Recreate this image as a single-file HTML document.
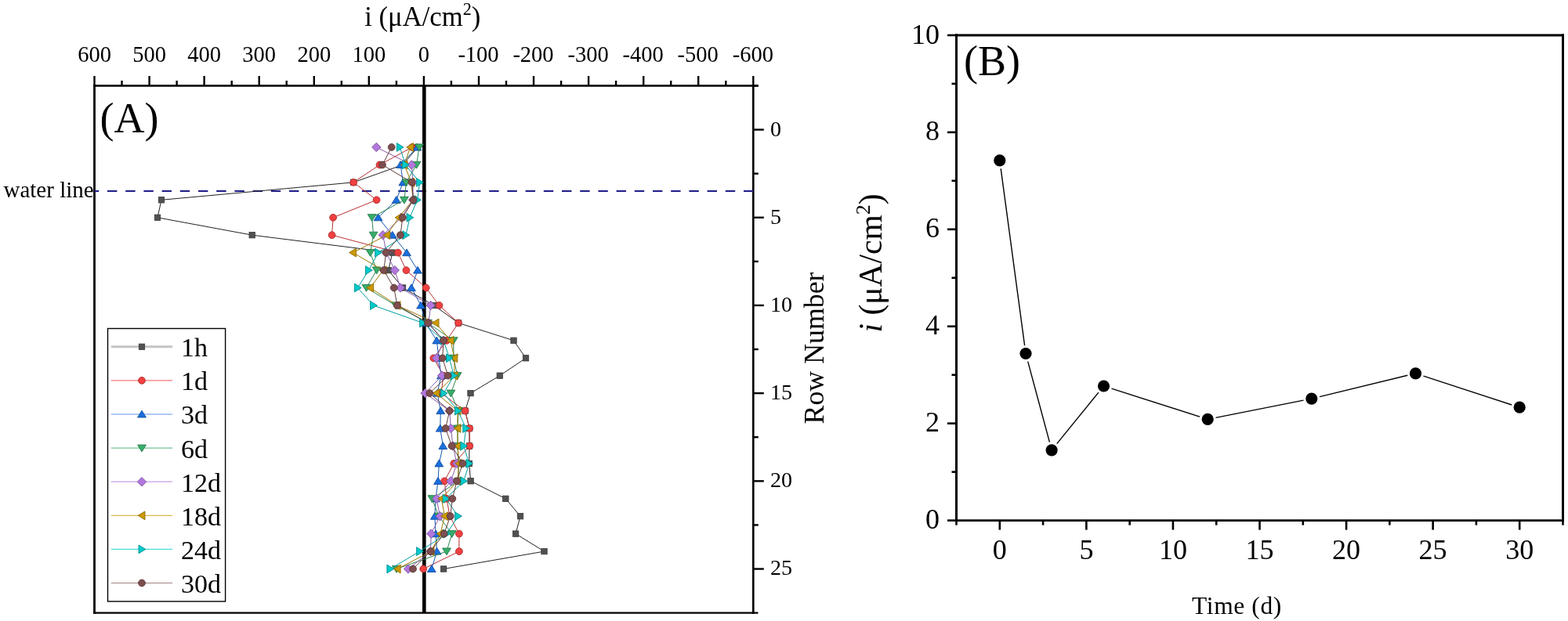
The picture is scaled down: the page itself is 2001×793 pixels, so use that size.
<!DOCTYPE html>
<html><head><meta charset="utf-8"><title>Figure</title>
<style>html,body{margin:0;padding:0;background:#fff;}body{width:2001px;height:793px;overflow:hidden;}svg{display:block;}text{font-family:'Liberation Serif', 'Times New Roman', serif;fill:#000;}</style>
</head><body>
<svg width="2001" height="793" viewBox="0 0 2001 793">
<rect x="0" y="0" width="2001" height="793" fill="#fff"/>
<g stroke="#000" fill="none" stroke-linecap="square">
<line x1="120.5" y1="109.5" x2="120.5" y2="782.6" stroke-width="2.8"/>
<line x1="961.3" y1="109.5" x2="961.3" y2="782.6" stroke-width="2.6"/>
<line x1="120.5" y1="109.5" x2="966.3" y2="109.5" stroke-width="2.3"/>
<line x1="120.5" y1="782.6" x2="966.3" y2="782.6" stroke-width="2.3"/>
</g>
<g stroke="#000" stroke-width="2.4">
<line x1="120.5" y1="109.5" x2="120.5" y2="97.0"/>
<line x1="155.5" y1="109.5" x2="155.5" y2="103.0"/>
<line x1="190.6" y1="109.5" x2="190.6" y2="97.0"/>
<line x1="225.6" y1="109.5" x2="225.6" y2="103.0"/>
<line x1="260.6" y1="109.5" x2="260.6" y2="97.0"/>
<line x1="295.7" y1="109.5" x2="295.7" y2="103.0"/>
<line x1="330.7" y1="109.5" x2="330.7" y2="97.0"/>
<line x1="365.7" y1="109.5" x2="365.7" y2="103.0"/>
<line x1="400.8" y1="109.5" x2="400.8" y2="97.0"/>
<line x1="435.8" y1="109.5" x2="435.8" y2="103.0"/>
<line x1="470.8" y1="109.5" x2="470.8" y2="97.0"/>
<line x1="505.9" y1="109.5" x2="505.9" y2="103.0"/>
<line x1="540.9" y1="109.5" x2="540.9" y2="97.0"/>
<line x1="575.9" y1="109.5" x2="575.9" y2="103.0"/>
<line x1="611.0" y1="109.5" x2="611.0" y2="97.0"/>
<line x1="646.0" y1="109.5" x2="646.0" y2="103.0"/>
<line x1="681.0" y1="109.5" x2="681.0" y2="97.0"/>
<line x1="716.1" y1="109.5" x2="716.1" y2="103.0"/>
<line x1="751.1" y1="109.5" x2="751.1" y2="97.0"/>
<line x1="786.1" y1="109.5" x2="786.1" y2="103.0"/>
<line x1="821.2" y1="109.5" x2="821.2" y2="97.0"/>
<line x1="856.2" y1="109.5" x2="856.2" y2="103.0"/>
<line x1="891.2" y1="109.5" x2="891.2" y2="97.0"/>
<line x1="926.3" y1="109.5" x2="926.3" y2="103.0"/>
<line x1="961.3" y1="109.5" x2="961.3" y2="97.0"/>
<line x1="961.3" y1="109.50" x2="967.8" y2="109.50"/>
<line x1="961.3" y1="165.59" x2="974.8" y2="165.59"/>
<line x1="961.3" y1="221.68" x2="967.8" y2="221.68"/>
<line x1="961.3" y1="277.77" x2="974.8" y2="277.77"/>
<line x1="961.3" y1="333.87" x2="967.8" y2="333.87"/>
<line x1="961.3" y1="389.96" x2="974.8" y2="389.96"/>
<line x1="961.3" y1="446.05" x2="967.8" y2="446.05"/>
<line x1="961.3" y1="502.14" x2="974.8" y2="502.14"/>
<line x1="961.3" y1="558.23" x2="967.8" y2="558.23"/>
<line x1="961.3" y1="614.33" x2="974.8" y2="614.33"/>
<line x1="961.3" y1="670.42" x2="967.8" y2="670.42"/>
<line x1="961.3" y1="726.51" x2="974.8" y2="726.51"/>
</g>
<g font-size="28.5" text-anchor="middle">
<text x="120.5" y="79.3">600</text>
<text x="190.6" y="79.3">500</text>
<text x="260.6" y="79.3">400</text>
<text x="330.7" y="79.3">300</text>
<text x="400.8" y="79.3">200</text>
<text x="470.8" y="79.3">100</text>
<text x="540.9" y="79.3">0</text>
<text x="610.5" y="79.3">-100</text>
<text x="680.5" y="79.3">-200</text>
<text x="750.6" y="79.3">-300</text>
<text x="820.7" y="79.3">-400</text>
<text x="890.7" y="79.3">-500</text>
<text x="960.8" y="79.3">-600</text>
</g>
<g font-size="28">
<text x="983" y="173.5">0</text>
<text x="983" y="285.7">5</text>
<text x="983" y="397.9">10</text>
<text x="983" y="510.0">15</text>
<text x="983" y="622.2">20</text>
<text x="983" y="734.4">25</text>
</g>
<text x="539.3" y="32.7" font-size="36" text-anchor="middle" textLength="148" lengthAdjust="spacingAndGlyphs">i (μA/cm<tspan font-size="23" dy="-14">2</tspan><tspan dy="14">)</tspan></text>
<text transform="translate(1050.5,444.5) rotate(-90)" font-size="35.8" text-anchor="middle">Row Number</text>
<text x="127.5" y="169.2" font-size="54">(A)</text>
<text x="4.5" y="252.4" font-size="29">water line</text>
<line x1="120.5" y1="244" x2="961.3" y2="244" stroke="#1e1c86" stroke-width="2.0" stroke-dasharray="12.4 10.8" stroke-dashoffset="6.7"/>
<line x1="541.3" y1="109.5" x2="541.3" y2="782.6" stroke="#000" stroke-width="4.6"/>
<polyline points="533.0,188.0 514.0,210.5 451.0,232.9 206.0,255.3 201.0,277.8 321.7,300.2 500.8,322.6 495.7,345.1 514.0,367.5 554.0,390.0 585.0,412.4 655.5,434.8 671.0,457.3 637.8,479.7 600.5,502.1 593.6,524.6 599.0,547.0 599.0,569.5 598.7,591.9 600.6,614.3 645.3,636.8 664.0,659.2 658.1,681.6 694.5,704.1 566.1,726.5" fill="none" stroke="#222" stroke-width="1.0" stroke-linejoin="round"/>
<rect x="529.3" y="184.3" width="7.4" height="7.4" fill="#515151" stroke="#3a3a3a" stroke-width="0.8"/>
<rect x="510.3" y="206.8" width="7.4" height="7.4" fill="#515151" stroke="#3a3a3a" stroke-width="0.8"/>
<rect x="447.3" y="229.2" width="7.4" height="7.4" fill="#515151" stroke="#3a3a3a" stroke-width="0.8"/>
<rect x="202.3" y="251.6" width="7.4" height="7.4" fill="#515151" stroke="#3a3a3a" stroke-width="0.8"/>
<rect x="197.3" y="274.1" width="7.4" height="7.4" fill="#515151" stroke="#3a3a3a" stroke-width="0.8"/>
<rect x="318.0" y="296.5" width="7.4" height="7.4" fill="#515151" stroke="#3a3a3a" stroke-width="0.8"/>
<rect x="497.1" y="318.9" width="7.4" height="7.4" fill="#515151" stroke="#3a3a3a" stroke-width="0.8"/>
<rect x="492.0" y="341.4" width="7.4" height="7.4" fill="#515151" stroke="#3a3a3a" stroke-width="0.8"/>
<rect x="510.3" y="363.8" width="7.4" height="7.4" fill="#515151" stroke="#3a3a3a" stroke-width="0.8"/>
<rect x="550.3" y="386.3" width="7.4" height="7.4" fill="#515151" stroke="#3a3a3a" stroke-width="0.8"/>
<rect x="581.3" y="408.7" width="7.4" height="7.4" fill="#515151" stroke="#3a3a3a" stroke-width="0.8"/>
<rect x="651.8" y="431.1" width="7.4" height="7.4" fill="#515151" stroke="#3a3a3a" stroke-width="0.8"/>
<rect x="667.3" y="453.6" width="7.4" height="7.4" fill="#515151" stroke="#3a3a3a" stroke-width="0.8"/>
<rect x="634.1" y="476.0" width="7.4" height="7.4" fill="#515151" stroke="#3a3a3a" stroke-width="0.8"/>
<rect x="596.8" y="498.4" width="7.4" height="7.4" fill="#515151" stroke="#3a3a3a" stroke-width="0.8"/>
<rect x="589.9" y="520.9" width="7.4" height="7.4" fill="#515151" stroke="#3a3a3a" stroke-width="0.8"/>
<rect x="595.3" y="543.3" width="7.4" height="7.4" fill="#515151" stroke="#3a3a3a" stroke-width="0.8"/>
<rect x="595.3" y="565.8" width="7.4" height="7.4" fill="#515151" stroke="#3a3a3a" stroke-width="0.8"/>
<rect x="595.0" y="588.2" width="7.4" height="7.4" fill="#515151" stroke="#3a3a3a" stroke-width="0.8"/>
<rect x="596.9" y="610.6" width="7.4" height="7.4" fill="#515151" stroke="#3a3a3a" stroke-width="0.8"/>
<rect x="641.6" y="633.1" width="7.4" height="7.4" fill="#515151" stroke="#3a3a3a" stroke-width="0.8"/>
<rect x="660.3" y="655.5" width="7.4" height="7.4" fill="#515151" stroke="#3a3a3a" stroke-width="0.8"/>
<rect x="654.4" y="677.9" width="7.4" height="7.4" fill="#515151" stroke="#3a3a3a" stroke-width="0.8"/>
<rect x="690.8" y="700.4" width="7.4" height="7.4" fill="#515151" stroke="#3a3a3a" stroke-width="0.8"/>
<rect x="562.4" y="722.8" width="7.4" height="7.4" fill="#515151" stroke="#3a3a3a" stroke-width="0.8"/>
<polyline points="526.0,188.0 484.5,210.5 451.1,232.9 480.6,255.3 425.1,277.8 423.6,300.2 507.9,322.6 518.4,345.1 543.7,367.5 560.5,390.0 585.0,412.4 570.0,434.8 553.3,457.3 566.0,479.7 563.0,502.1 593.6,524.6 599.2,547.0 599.3,569.5 579.2,591.9 567.2,614.3 570.0,636.8 574.0,659.2 585.9,681.6 585.9,704.1 540.2,726.5" fill="none" stroke="#bb3131" stroke-width="1.0" stroke-linejoin="round"/>
<circle cx="526.0" cy="188.0" r="4.40" fill="#F14040" stroke="#a82c2c" stroke-width="0.9"/>
<circle cx="484.5" cy="210.5" r="4.40" fill="#F14040" stroke="#a82c2c" stroke-width="0.9"/>
<circle cx="451.1" cy="232.9" r="4.40" fill="#F14040" stroke="#a82c2c" stroke-width="0.9"/>
<circle cx="480.6" cy="255.3" r="4.40" fill="#F14040" stroke="#a82c2c" stroke-width="0.9"/>
<circle cx="425.1" cy="277.8" r="4.40" fill="#F14040" stroke="#a82c2c" stroke-width="0.9"/>
<circle cx="423.6" cy="300.2" r="4.40" fill="#F14040" stroke="#a82c2c" stroke-width="0.9"/>
<circle cx="507.9" cy="322.6" r="4.40" fill="#F14040" stroke="#a82c2c" stroke-width="0.9"/>
<circle cx="518.4" cy="345.1" r="4.40" fill="#F14040" stroke="#a82c2c" stroke-width="0.9"/>
<circle cx="543.7" cy="367.5" r="4.40" fill="#F14040" stroke="#a82c2c" stroke-width="0.9"/>
<circle cx="560.5" cy="390.0" r="4.40" fill="#F14040" stroke="#a82c2c" stroke-width="0.9"/>
<circle cx="585.0" cy="412.4" r="4.40" fill="#F14040" stroke="#a82c2c" stroke-width="0.9"/>
<circle cx="570.0" cy="434.8" r="4.40" fill="#F14040" stroke="#a82c2c" stroke-width="0.9"/>
<circle cx="553.3" cy="457.3" r="4.40" fill="#F14040" stroke="#a82c2c" stroke-width="0.9"/>
<circle cx="566.0" cy="479.7" r="4.40" fill="#F14040" stroke="#a82c2c" stroke-width="0.9"/>
<circle cx="563.0" cy="502.1" r="4.40" fill="#F14040" stroke="#a82c2c" stroke-width="0.9"/>
<circle cx="593.6" cy="524.6" r="4.40" fill="#F14040" stroke="#a82c2c" stroke-width="0.9"/>
<circle cx="599.2" cy="547.0" r="4.40" fill="#F14040" stroke="#a82c2c" stroke-width="0.9"/>
<circle cx="599.3" cy="569.5" r="4.40" fill="#F14040" stroke="#a82c2c" stroke-width="0.9"/>
<circle cx="579.2" cy="591.9" r="4.40" fill="#F14040" stroke="#a82c2c" stroke-width="0.9"/>
<circle cx="567.2" cy="614.3" r="4.40" fill="#F14040" stroke="#a82c2c" stroke-width="0.9"/>
<circle cx="570.0" cy="636.8" r="4.40" fill="#F14040" stroke="#a82c2c" stroke-width="0.9"/>
<circle cx="574.0" cy="659.2" r="4.40" fill="#F14040" stroke="#a82c2c" stroke-width="0.9"/>
<circle cx="585.9" cy="681.6" r="4.40" fill="#F14040" stroke="#a82c2c" stroke-width="0.9"/>
<circle cx="585.9" cy="704.1" r="4.40" fill="#F14040" stroke="#a82c2c" stroke-width="0.9"/>
<circle cx="540.2" cy="726.5" r="4.40" fill="#F14040" stroke="#a82c2c" stroke-width="0.9"/>
<polyline points="532.4,188.0 511.2,210.5 514.3,232.9 505.8,255.3 482.6,277.8 500.8,300.2 519.0,322.6 533.0,345.1 525.0,367.5 537.1,390.0 543.0,412.4 557.3,434.8 560.0,457.3 563.0,479.7 558.0,502.1 562.3,524.6 561.8,547.0 565.3,569.5 560.3,591.9 559.0,614.3 556.0,636.8 554.8,659.2 556.1,681.6 557.5,704.1 550.8,726.5" fill="none" stroke="#1456ad" stroke-width="1.0" stroke-linejoin="round"/>
<polygon points="532.4,183.3 537.8,192.1 527.0,192.1" fill="#1A6FDF" stroke="#124d9c" stroke-width="0.9"/>
<polygon points="511.2,205.7 516.6,214.5 505.8,214.5" fill="#1A6FDF" stroke="#124d9c" stroke-width="0.9"/>
<polygon points="514.3,228.2 519.7,236.9 508.9,236.9" fill="#1A6FDF" stroke="#124d9c" stroke-width="0.9"/>
<polygon points="505.8,250.6 511.2,259.4 500.4,259.4" fill="#1A6FDF" stroke="#124d9c" stroke-width="0.9"/>
<polygon points="482.6,273.0 488.0,281.8 477.2,281.8" fill="#1A6FDF" stroke="#124d9c" stroke-width="0.9"/>
<polygon points="500.8,295.5 506.2,304.2 495.4,304.2" fill="#1A6FDF" stroke="#124d9c" stroke-width="0.9"/>
<polygon points="519.0,317.9 524.4,326.7 513.6,326.7" fill="#1A6FDF" stroke="#124d9c" stroke-width="0.9"/>
<polygon points="533.0,340.3 538.4,349.1 527.6,349.1" fill="#1A6FDF" stroke="#124d9c" stroke-width="0.9"/>
<polygon points="525.0,362.8 530.4,371.6 519.6,371.6" fill="#1A6FDF" stroke="#124d9c" stroke-width="0.9"/>
<polygon points="537.1,385.2 542.5,394.0 531.7,394.0" fill="#1A6FDF" stroke="#124d9c" stroke-width="0.9"/>
<polygon points="543.0,407.6 548.4,416.4 537.6,416.4" fill="#1A6FDF" stroke="#124d9c" stroke-width="0.9"/>
<polygon points="557.3,430.1 562.7,438.9 551.9,438.9" fill="#1A6FDF" stroke="#124d9c" stroke-width="0.9"/>
<polygon points="560.0,452.5 565.4,461.3 554.6,461.3" fill="#1A6FDF" stroke="#124d9c" stroke-width="0.9"/>
<polygon points="563.0,475.0 568.4,483.7 557.6,483.7" fill="#1A6FDF" stroke="#124d9c" stroke-width="0.9"/>
<polygon points="558.0,497.4 563.4,506.2 552.6,506.2" fill="#1A6FDF" stroke="#124d9c" stroke-width="0.9"/>
<polygon points="562.3,519.8 567.7,528.6 556.9,528.6" fill="#1A6FDF" stroke="#124d9c" stroke-width="0.9"/>
<polygon points="561.8,542.3 567.2,551.1 556.4,551.1" fill="#1A6FDF" stroke="#124d9c" stroke-width="0.9"/>
<polygon points="565.3,564.7 570.7,573.5 559.9,573.5" fill="#1A6FDF" stroke="#124d9c" stroke-width="0.9"/>
<polygon points="560.3,587.1 565.7,595.9 554.9,595.9" fill="#1A6FDF" stroke="#124d9c" stroke-width="0.9"/>
<polygon points="559.0,609.6 564.4,618.4 553.6,618.4" fill="#1A6FDF" stroke="#124d9c" stroke-width="0.9"/>
<polygon points="556.0,632.0 561.4,640.8 550.6,640.8" fill="#1A6FDF" stroke="#124d9c" stroke-width="0.9"/>
<polygon points="554.8,654.4 560.2,663.2 549.4,663.2" fill="#1A6FDF" stroke="#124d9c" stroke-width="0.9"/>
<polygon points="556.1,676.9 561.5,685.7 550.7,685.7" fill="#1A6FDF" stroke="#124d9c" stroke-width="0.9"/>
<polygon points="557.5,699.3 562.9,708.1 552.1,708.1" fill="#1A6FDF" stroke="#124d9c" stroke-width="0.9"/>
<polygon points="550.8,721.8 556.2,730.5 545.4,730.5" fill="#1A6FDF" stroke="#124d9c" stroke-width="0.9"/>
<polyline points="535.0,188.0 531.5,210.5 518.4,232.9 515.9,255.3 474.6,277.8 476.6,300.2 472.5,322.6 480.6,345.1 467.5,367.5 505.0,390.0 546.0,412.4 578.7,434.8 579.0,457.3 583.6,479.7 575.4,502.1 585.0,524.6 584.0,547.0 584.0,569.5 585.0,591.9 585.0,614.3 551.4,636.8 560.0,659.2 576.7,681.6 570.0,704.1 506.0,726.5" fill="none" stroke="#2a8653" stroke-width="1.0" stroke-linejoin="round"/>
<polygon points="535.0,192.8 540.4,184.0 529.6,184.0" fill="#37AD6B" stroke="#26794a" stroke-width="0.9"/>
<polygon points="531.5,215.2 536.9,206.4 526.1,206.4" fill="#37AD6B" stroke="#26794a" stroke-width="0.9"/>
<polygon points="518.4,237.7 523.8,228.9 513.0,228.9" fill="#37AD6B" stroke="#26794a" stroke-width="0.9"/>
<polygon points="515.9,260.1 521.3,251.3 510.5,251.3" fill="#37AD6B" stroke="#26794a" stroke-width="0.9"/>
<polygon points="474.6,282.5 480.0,273.7 469.2,273.7" fill="#37AD6B" stroke="#26794a" stroke-width="0.9"/>
<polygon points="476.6,305.0 482.0,296.2 471.2,296.2" fill="#37AD6B" stroke="#26794a" stroke-width="0.9"/>
<polygon points="472.5,327.4 477.9,318.6 467.1,318.6" fill="#37AD6B" stroke="#26794a" stroke-width="0.9"/>
<polygon points="480.6,349.8 486.0,341.0 475.2,341.0" fill="#37AD6B" stroke="#26794a" stroke-width="0.9"/>
<polygon points="467.5,372.3 472.9,363.5 462.1,363.5" fill="#37AD6B" stroke="#26794a" stroke-width="0.9"/>
<polygon points="505.0,394.7 510.4,385.9 499.6,385.9" fill="#37AD6B" stroke="#26794a" stroke-width="0.9"/>
<polygon points="546.0,417.1 551.4,408.4 540.6,408.4" fill="#37AD6B" stroke="#26794a" stroke-width="0.9"/>
<polygon points="578.7,439.6 584.1,430.8 573.3,430.8" fill="#37AD6B" stroke="#26794a" stroke-width="0.9"/>
<polygon points="579.0,462.0 584.4,453.2 573.6,453.2" fill="#37AD6B" stroke="#26794a" stroke-width="0.9"/>
<polygon points="583.6,484.5 589.0,475.7 578.2,475.7" fill="#37AD6B" stroke="#26794a" stroke-width="0.9"/>
<polygon points="575.4,506.9 580.8,498.1 570.0,498.1" fill="#37AD6B" stroke="#26794a" stroke-width="0.9"/>
<polygon points="585.0,529.3 590.4,520.5 579.6,520.5" fill="#37AD6B" stroke="#26794a" stroke-width="0.9"/>
<polygon points="584.0,551.8 589.4,543.0 578.6,543.0" fill="#37AD6B" stroke="#26794a" stroke-width="0.9"/>
<polygon points="584.0,574.2 589.4,565.4 578.6,565.4" fill="#37AD6B" stroke="#26794a" stroke-width="0.9"/>
<polygon points="585.0,596.6 590.4,587.9 579.6,587.9" fill="#37AD6B" stroke="#26794a" stroke-width="0.9"/>
<polygon points="585.0,619.1 590.4,610.3 579.6,610.3" fill="#37AD6B" stroke="#26794a" stroke-width="0.9"/>
<polygon points="551.4,641.5 556.8,632.7 546.0,632.7" fill="#37AD6B" stroke="#26794a" stroke-width="0.9"/>
<polygon points="560.0,663.9 565.4,655.2 554.6,655.2" fill="#37AD6B" stroke="#26794a" stroke-width="0.9"/>
<polygon points="576.7,686.4 582.1,677.6 571.3,677.6" fill="#37AD6B" stroke="#26794a" stroke-width="0.9"/>
<polygon points="570.0,708.8 575.4,700.0 564.6,700.0" fill="#37AD6B" stroke="#26794a" stroke-width="0.9"/>
<polygon points="506.0,731.3 511.4,722.5 500.6,722.5" fill="#37AD6B" stroke="#26794a" stroke-width="0.9"/>
<polyline points="480.3,188.0 525.3,210.5 527.0,232.9 527.0,255.3 512.0,277.8 488.7,300.2 493.0,322.6 503.8,345.1 510.9,367.5 549.7,390.0 547.0,412.4 566.0,434.8 557.0,457.3 564.0,479.7 542.6,502.1 573.7,524.6 575.4,547.0 578.0,569.5 583.0,591.9 575.4,614.3 557.1,636.8 561.5,659.2 550.2,681.6 549.5,704.1 521.0,726.5" fill="none" stroke="#8a5cad" stroke-width="1.0" stroke-linejoin="round"/>
<polygon points="480.3,182.3 486.0,188.0 480.3,193.7 474.6,188.0" fill="#B177DE" stroke="#7b539b" stroke-width="0.9"/>
<polygon points="525.3,204.8 531.0,210.5 525.3,216.2 519.6,210.5" fill="#B177DE" stroke="#7b539b" stroke-width="0.9"/>
<polygon points="527.0,227.2 532.7,232.9 527.0,238.6 521.3,232.9" fill="#B177DE" stroke="#7b539b" stroke-width="0.9"/>
<polygon points="527.0,249.6 532.7,255.3 527.0,261.0 521.3,255.3" fill="#B177DE" stroke="#7b539b" stroke-width="0.9"/>
<polygon points="512.0,272.1 517.7,277.8 512.0,283.5 506.3,277.8" fill="#B177DE" stroke="#7b539b" stroke-width="0.9"/>
<polygon points="488.7,294.5 494.4,300.2 488.7,305.9 483.0,300.2" fill="#B177DE" stroke="#7b539b" stroke-width="0.9"/>
<polygon points="493.0,316.9 498.7,322.6 493.0,328.3 487.3,322.6" fill="#B177DE" stroke="#7b539b" stroke-width="0.9"/>
<polygon points="503.8,339.4 509.5,345.1 503.8,350.8 498.1,345.1" fill="#B177DE" stroke="#7b539b" stroke-width="0.9"/>
<polygon points="510.9,361.8 516.6,367.5 510.9,373.2 505.2,367.5" fill="#B177DE" stroke="#7b539b" stroke-width="0.9"/>
<polygon points="549.7,384.3 555.4,390.0 549.7,395.7 544.0,390.0" fill="#B177DE" stroke="#7b539b" stroke-width="0.9"/>
<polygon points="547.0,406.7 552.7,412.4 547.0,418.1 541.3,412.4" fill="#B177DE" stroke="#7b539b" stroke-width="0.9"/>
<polygon points="566.0,429.1 571.7,434.8 566.0,440.5 560.3,434.8" fill="#B177DE" stroke="#7b539b" stroke-width="0.9"/>
<polygon points="557.0,451.6 562.7,457.3 557.0,463.0 551.3,457.3" fill="#B177DE" stroke="#7b539b" stroke-width="0.9"/>
<polygon points="564.0,474.0 569.7,479.7 564.0,485.4 558.3,479.7" fill="#B177DE" stroke="#7b539b" stroke-width="0.9"/>
<polygon points="542.6,496.4 548.3,502.1 542.6,507.8 536.9,502.1" fill="#B177DE" stroke="#7b539b" stroke-width="0.9"/>
<polygon points="573.7,518.9 579.4,524.6 573.7,530.3 568.0,524.6" fill="#B177DE" stroke="#7b539b" stroke-width="0.9"/>
<polygon points="575.4,541.3 581.1,547.0 575.4,552.7 569.7,547.0" fill="#B177DE" stroke="#7b539b" stroke-width="0.9"/>
<polygon points="578.0,563.8 583.7,569.5 578.0,575.2 572.3,569.5" fill="#B177DE" stroke="#7b539b" stroke-width="0.9"/>
<polygon points="583.0,586.2 588.7,591.9 583.0,597.6 577.3,591.9" fill="#B177DE" stroke="#7b539b" stroke-width="0.9"/>
<polygon points="575.4,608.6 581.1,614.3 575.4,620.0 569.7,614.3" fill="#B177DE" stroke="#7b539b" stroke-width="0.9"/>
<polygon points="557.1,631.1 562.8,636.8 557.1,642.5 551.4,636.8" fill="#B177DE" stroke="#7b539b" stroke-width="0.9"/>
<polygon points="561.5,653.5 567.2,659.2 561.5,664.9 555.8,659.2" fill="#B177DE" stroke="#7b539b" stroke-width="0.9"/>
<polygon points="550.2,675.9 555.9,681.6 550.2,687.3 544.5,681.6" fill="#B177DE" stroke="#7b539b" stroke-width="0.9"/>
<polygon points="549.5,698.4 555.2,704.1 549.5,709.8 543.8,704.1" fill="#B177DE" stroke="#7b539b" stroke-width="0.9"/>
<polygon points="521.0,720.8 526.7,726.5 521.0,732.2 515.3,726.5" fill="#B177DE" stroke="#7b539b" stroke-width="0.9"/>
<polyline points="523.5,188.0 516.0,210.5 525.0,232.9 527.0,255.3 508.9,277.8 493.7,300.2 450.4,322.6 489.0,345.1 472.5,367.5 507.0,390.0 556.0,412.4 575.0,434.8 579.8,457.3 580.0,479.7 556.7,502.1 584.0,524.6 583.9,547.0 584.2,569.5 585.5,591.9 584.0,614.3 563.4,636.8 567.4,659.2 562.0,681.6 550.0,704.1 507.1,726.5" fill="none" stroke="#9f7700" stroke-width="1.0" stroke-linejoin="round"/>
<polygon points="518.8,188.0 527.5,182.6 527.5,193.4" fill="#CC9900" stroke="#8e6b00" stroke-width="0.9"/>
<polygon points="511.2,210.5 520.0,205.1 520.0,215.9" fill="#CC9900" stroke="#8e6b00" stroke-width="0.9"/>
<polygon points="520.2,232.9 529.0,227.5 529.0,238.3" fill="#CC9900" stroke="#8e6b00" stroke-width="0.9"/>
<polygon points="522.2,255.3 531.0,249.9 531.0,260.7" fill="#CC9900" stroke="#8e6b00" stroke-width="0.9"/>
<polygon points="504.1,277.8 512.9,272.4 512.9,283.2" fill="#CC9900" stroke="#8e6b00" stroke-width="0.9"/>
<polygon points="488.9,300.2 497.7,294.8 497.7,305.6" fill="#CC9900" stroke="#8e6b00" stroke-width="0.9"/>
<polygon points="445.6,322.6 454.4,317.2 454.4,328.0" fill="#CC9900" stroke="#8e6b00" stroke-width="0.9"/>
<polygon points="484.2,345.1 493.0,339.7 493.0,350.5" fill="#CC9900" stroke="#8e6b00" stroke-width="0.9"/>
<polygon points="467.8,367.5 476.5,362.1 476.5,372.9" fill="#CC9900" stroke="#8e6b00" stroke-width="0.9"/>
<polygon points="502.2,390.0 511.0,384.6 511.0,395.4" fill="#CC9900" stroke="#8e6b00" stroke-width="0.9"/>
<polygon points="551.2,412.4 560.0,407.0 560.0,417.8" fill="#CC9900" stroke="#8e6b00" stroke-width="0.9"/>
<polygon points="570.2,434.8 579.0,429.4 579.0,440.2" fill="#CC9900" stroke="#8e6b00" stroke-width="0.9"/>
<polygon points="575.0,457.3 583.8,451.9 583.8,462.7" fill="#CC9900" stroke="#8e6b00" stroke-width="0.9"/>
<polygon points="575.2,479.7 584.0,474.3 584.0,485.1" fill="#CC9900" stroke="#8e6b00" stroke-width="0.9"/>
<polygon points="552.0,502.1 560.7,496.7 560.7,507.5" fill="#CC9900" stroke="#8e6b00" stroke-width="0.9"/>
<polygon points="579.2,524.6 588.0,519.2 588.0,530.0" fill="#CC9900" stroke="#8e6b00" stroke-width="0.9"/>
<polygon points="579.1,547.0 587.9,541.6 587.9,552.4" fill="#CC9900" stroke="#8e6b00" stroke-width="0.9"/>
<polygon points="579.5,569.5 588.2,564.1 588.2,574.9" fill="#CC9900" stroke="#8e6b00" stroke-width="0.9"/>
<polygon points="580.8,591.9 589.5,586.5 589.5,597.3" fill="#CC9900" stroke="#8e6b00" stroke-width="0.9"/>
<polygon points="579.2,614.3 588.0,608.9 588.0,619.7" fill="#CC9900" stroke="#8e6b00" stroke-width="0.9"/>
<polygon points="558.6,636.8 567.4,631.4 567.4,642.2" fill="#CC9900" stroke="#8e6b00" stroke-width="0.9"/>
<polygon points="562.6,659.2 571.4,653.8 571.4,664.6" fill="#CC9900" stroke="#8e6b00" stroke-width="0.9"/>
<polygon points="557.2,681.6 566.0,676.2 566.0,687.0" fill="#CC9900" stroke="#8e6b00" stroke-width="0.9"/>
<polygon points="545.2,704.1 554.0,698.7 554.0,709.5" fill="#CC9900" stroke="#8e6b00" stroke-width="0.9"/>
<polygon points="502.4,726.5 511.1,721.1 511.1,731.9" fill="#CC9900" stroke="#8e6b00" stroke-width="0.9"/>
<polyline points="510.3,188.0 517.4,210.5 535.6,232.9 532.6,255.3 523.0,277.8 517.9,300.2 482.6,322.6 470.5,345.1 456.4,367.5 476.6,390.0 539.6,412.4 566.0,434.8 573.5,457.3 579.2,479.7 566.3,502.1 584.5,524.6 594.7,547.0 591.8,569.5 598.7,591.9 591.8,614.3 569.1,636.8 584.6,659.2 570.0,681.6 535.6,704.1 497.9,726.5" fill="none" stroke="#009e9f" stroke-width="1.0" stroke-linejoin="round"/>
<polygon points="515.0,188.0 506.3,182.6 506.3,193.4" fill="#00CBCC" stroke="#008e8e" stroke-width="0.9"/>
<polygon points="522.1,210.5 513.4,205.1 513.4,215.9" fill="#00CBCC" stroke="#008e8e" stroke-width="0.9"/>
<polygon points="540.4,232.9 531.6,227.5 531.6,238.3" fill="#00CBCC" stroke="#008e8e" stroke-width="0.9"/>
<polygon points="537.4,255.3 528.6,249.9 528.6,260.7" fill="#00CBCC" stroke="#008e8e" stroke-width="0.9"/>
<polygon points="527.8,277.8 519.0,272.4 519.0,283.2" fill="#00CBCC" stroke="#008e8e" stroke-width="0.9"/>
<polygon points="522.6,300.2 513.9,294.8 513.9,305.6" fill="#00CBCC" stroke="#008e8e" stroke-width="0.9"/>
<polygon points="487.4,322.6 478.6,317.2 478.6,328.0" fill="#00CBCC" stroke="#008e8e" stroke-width="0.9"/>
<polygon points="475.2,345.1 466.5,339.7 466.5,350.5" fill="#00CBCC" stroke="#008e8e" stroke-width="0.9"/>
<polygon points="461.1,367.5 452.4,362.1 452.4,372.9" fill="#00CBCC" stroke="#008e8e" stroke-width="0.9"/>
<polygon points="481.4,390.0 472.6,384.6 472.6,395.4" fill="#00CBCC" stroke="#008e8e" stroke-width="0.9"/>
<polygon points="544.4,412.4 535.6,407.0 535.6,417.8" fill="#00CBCC" stroke="#008e8e" stroke-width="0.9"/>
<polygon points="570.8,434.8 562.0,429.4 562.0,440.2" fill="#00CBCC" stroke="#008e8e" stroke-width="0.9"/>
<polygon points="578.2,457.3 569.5,451.9 569.5,462.7" fill="#00CBCC" stroke="#008e8e" stroke-width="0.9"/>
<polygon points="584.0,479.7 575.2,474.3 575.2,485.1" fill="#00CBCC" stroke="#008e8e" stroke-width="0.9"/>
<polygon points="571.0,502.1 562.3,496.7 562.3,507.5" fill="#00CBCC" stroke="#008e8e" stroke-width="0.9"/>
<polygon points="589.2,524.6 580.5,519.2 580.5,530.0" fill="#00CBCC" stroke="#008e8e" stroke-width="0.9"/>
<polygon points="599.5,547.0 590.7,541.6 590.7,552.4" fill="#00CBCC" stroke="#008e8e" stroke-width="0.9"/>
<polygon points="596.5,569.5 587.8,564.1 587.8,574.9" fill="#00CBCC" stroke="#008e8e" stroke-width="0.9"/>
<polygon points="603.5,591.9 594.7,586.5 594.7,597.3" fill="#00CBCC" stroke="#008e8e" stroke-width="0.9"/>
<polygon points="596.5,614.3 587.8,608.9 587.8,619.7" fill="#00CBCC" stroke="#008e8e" stroke-width="0.9"/>
<polygon points="573.9,636.8 565.1,631.4 565.1,642.2" fill="#00CBCC" stroke="#008e8e" stroke-width="0.9"/>
<polygon points="589.4,659.2 580.6,653.8 580.6,664.6" fill="#00CBCC" stroke="#008e8e" stroke-width="0.9"/>
<polygon points="574.8,681.6 566.0,676.2 566.0,687.0" fill="#00CBCC" stroke="#008e8e" stroke-width="0.9"/>
<polygon points="540.4,704.1 531.6,698.7 531.6,709.5" fill="#00CBCC" stroke="#008e8e" stroke-width="0.9"/>
<polygon points="502.6,726.5 493.9,721.1 493.9,731.9" fill="#00CBCC" stroke="#008e8e" stroke-width="0.9"/>
<polyline points="499.7,188.0 488.0,210.5 525.5,232.9 527.5,255.3 513.9,277.8 510.9,300.2 492.7,322.6 489.7,345.1 502.8,367.5 506.9,390.0 546.0,412.4 566.0,434.8 564.7,457.3 571.6,479.7 548.3,502.1 573.7,524.6 568.6,547.0 576.6,569.5 590.5,591.9 583.0,614.3 577.3,636.8 574.7,659.2 566.7,681.6 549.5,704.1 527.0,726.5" fill="none" stroke="#613c3c" stroke-width="1.0" stroke-linejoin="round"/>
<circle cx="499.7" cy="188.0" r="4.40" fill="#7D4E4E" stroke="#573636" stroke-width="0.9"/>
<circle cx="488.0" cy="210.5" r="4.40" fill="#7D4E4E" stroke="#573636" stroke-width="0.9"/>
<circle cx="525.5" cy="232.9" r="4.40" fill="#7D4E4E" stroke="#573636" stroke-width="0.9"/>
<circle cx="527.5" cy="255.3" r="4.40" fill="#7D4E4E" stroke="#573636" stroke-width="0.9"/>
<circle cx="513.9" cy="277.8" r="4.40" fill="#7D4E4E" stroke="#573636" stroke-width="0.9"/>
<circle cx="510.9" cy="300.2" r="4.40" fill="#7D4E4E" stroke="#573636" stroke-width="0.9"/>
<circle cx="492.7" cy="322.6" r="4.40" fill="#7D4E4E" stroke="#573636" stroke-width="0.9"/>
<circle cx="489.7" cy="345.1" r="4.40" fill="#7D4E4E" stroke="#573636" stroke-width="0.9"/>
<circle cx="502.8" cy="367.5" r="4.40" fill="#7D4E4E" stroke="#573636" stroke-width="0.9"/>
<circle cx="506.9" cy="390.0" r="4.40" fill="#7D4E4E" stroke="#573636" stroke-width="0.9"/>
<circle cx="546.0" cy="412.4" r="4.40" fill="#7D4E4E" stroke="#573636" stroke-width="0.9"/>
<circle cx="566.0" cy="434.8" r="4.40" fill="#7D4E4E" stroke="#573636" stroke-width="0.9"/>
<circle cx="564.7" cy="457.3" r="4.40" fill="#7D4E4E" stroke="#573636" stroke-width="0.9"/>
<circle cx="571.6" cy="479.7" r="4.40" fill="#7D4E4E" stroke="#573636" stroke-width="0.9"/>
<circle cx="548.3" cy="502.1" r="4.40" fill="#7D4E4E" stroke="#573636" stroke-width="0.9"/>
<circle cx="573.7" cy="524.6" r="4.40" fill="#7D4E4E" stroke="#573636" stroke-width="0.9"/>
<circle cx="568.6" cy="547.0" r="4.40" fill="#7D4E4E" stroke="#573636" stroke-width="0.9"/>
<circle cx="576.6" cy="569.5" r="4.40" fill="#7D4E4E" stroke="#573636" stroke-width="0.9"/>
<circle cx="590.5" cy="591.9" r="4.40" fill="#7D4E4E" stroke="#573636" stroke-width="0.9"/>
<circle cx="583.0" cy="614.3" r="4.40" fill="#7D4E4E" stroke="#573636" stroke-width="0.9"/>
<circle cx="577.3" cy="636.8" r="4.40" fill="#7D4E4E" stroke="#573636" stroke-width="0.9"/>
<circle cx="574.7" cy="659.2" r="4.40" fill="#7D4E4E" stroke="#573636" stroke-width="0.9"/>
<circle cx="566.7" cy="681.6" r="4.40" fill="#7D4E4E" stroke="#573636" stroke-width="0.9"/>
<circle cx="549.5" cy="704.1" r="4.40" fill="#7D4E4E" stroke="#573636" stroke-width="0.9"/>
<circle cx="527.0" cy="726.5" r="4.40" fill="#7D4E4E" stroke="#573636" stroke-width="0.9"/>
<rect x="137.5" y="419.5" width="150.1" height="348.5" fill="#fff" stroke="#000" stroke-width="1.4"/>
<g font-size="34">
<line x1="141.8" y1="442.8" x2="220" y2="442.8" stroke="#c4c4c4" stroke-width="3.0"/>
<rect x="177.3" y="439.1" width="7.4" height="7.4" fill="#515151" stroke="#3a3a3a" stroke-width="0.8"/>
<text x="231" y="455.2">1h</text>
<line x1="141.8" y1="485.9" x2="220" y2="485.9" stroke="#f57979" stroke-width="1.2"/>
<circle cx="181.0" cy="485.9" r="4.40" fill="#F14040" stroke="#a82c2c" stroke-width="0.9"/>
<text x="231" y="498.3">1d</text>
<line x1="141.8" y1="529.0" x2="220" y2="529.0" stroke="#5e9ae8" stroke-width="1.2"/>
<polygon points="181.0,524.2 186.4,533.0 175.6,533.0" fill="#1A6FDF" stroke="#124d9c" stroke-width="0.9"/>
<text x="231" y="541.4">3d</text>
<line x1="141.8" y1="572.1" x2="220" y2="572.1" stroke="#73c597" stroke-width="1.2"/>
<polygon points="181.0,576.9 186.4,568.1 175.6,568.1" fill="#37AD6B" stroke="#26794a" stroke-width="0.9"/>
<text x="231" y="584.5">6d</text>
<line x1="141.8" y1="615.2" x2="220" y2="615.2" stroke="#c89fe7" stroke-width="1.2"/>
<polygon points="181.0,609.5 186.7,615.2 181.0,620.9 175.3,615.2" fill="#B177DE" stroke="#7b539b" stroke-width="0.9"/>
<text x="231" y="627.6">12d</text>
<line x1="141.8" y1="658.3" x2="220" y2="658.3" stroke="#dbb74c" stroke-width="1.2"/>
<polygon points="176.2,658.3 185.0,652.9 185.0,663.7" fill="#CC9900" stroke="#8e6b00" stroke-width="0.9"/>
<text x="231" y="670.7">18d</text>
<line x1="141.8" y1="701.4" x2="220" y2="701.4" stroke="#4cdadb" stroke-width="1.2"/>
<polygon points="185.8,701.4 177.0,696.0 177.0,706.8" fill="#00CBCC" stroke="#008e8e" stroke-width="0.9"/>
<text x="231" y="713.8">24d</text>
<line x1="141.8" y1="744.5" x2="220" y2="744.5" stroke="#a48383" stroke-width="1.2"/>
<circle cx="181.0" cy="744.5" r="4.40" fill="#7D4E4E" stroke="#573636" stroke-width="0.9"/>
<text x="231" y="756.9">30d</text>
</g>
<g stroke="#000" fill="none" stroke-linecap="square">
<line x1="1220.5" y1="45.0" x2="1220.5" y2="664.6" stroke-width="3"/>
<line x1="1994.5" y1="45.0" x2="1994.5" y2="664.6" stroke-width="3"/>
<line x1="1220.5" y1="45.0" x2="1994.5" y2="45.0" stroke-width="3"/>
<line x1="1220.5" y1="664.6" x2="1994.5" y2="664.6" stroke-width="2.8"/>
</g>
<g stroke="#000" stroke-width="2.6">
<line x1="1220.5" y1="664.60" x2="1209.0" y2="664.60"/>
<line x1="1220.5" y1="602.64" x2="1214.5" y2="602.64"/>
<line x1="1220.5" y1="540.68" x2="1209.0" y2="540.68"/>
<line x1="1220.5" y1="478.72" x2="1214.5" y2="478.72"/>
<line x1="1220.5" y1="416.76" x2="1209.0" y2="416.76"/>
<line x1="1220.5" y1="354.80" x2="1214.5" y2="354.80"/>
<line x1="1220.5" y1="292.84" x2="1209.0" y2="292.84"/>
<line x1="1220.5" y1="230.88" x2="1214.5" y2="230.88"/>
<line x1="1220.5" y1="168.92" x2="1209.0" y2="168.92"/>
<line x1="1220.5" y1="106.96" x2="1214.5" y2="106.96"/>
<line x1="1220.5" y1="45.00" x2="1209.0" y2="45.00"/>
<line x1="1220.50" y1="664.6" x2="1220.50" y2="670.6"/>
<line x1="1275.79" y1="664.6" x2="1275.79" y2="676.6"/>
<line x1="1331.07" y1="664.6" x2="1331.07" y2="670.6"/>
<line x1="1386.36" y1="664.6" x2="1386.36" y2="676.6"/>
<line x1="1441.64" y1="664.6" x2="1441.64" y2="670.6"/>
<line x1="1496.93" y1="664.6" x2="1496.93" y2="676.6"/>
<line x1="1552.21" y1="664.6" x2="1552.21" y2="670.6"/>
<line x1="1607.50" y1="664.6" x2="1607.50" y2="676.6"/>
<line x1="1662.79" y1="664.6" x2="1662.79" y2="670.6"/>
<line x1="1718.07" y1="664.6" x2="1718.07" y2="676.6"/>
<line x1="1773.36" y1="664.6" x2="1773.36" y2="670.6"/>
<line x1="1828.64" y1="664.6" x2="1828.64" y2="676.6"/>
<line x1="1883.93" y1="664.6" x2="1883.93" y2="670.6"/>
<line x1="1939.21" y1="664.6" x2="1939.21" y2="676.6"/>
<line x1="1994.50" y1="664.6" x2="1994.50" y2="670.6"/>
</g>
<g font-size="36" text-anchor="end">
<text x="1199" y="675.1">0</text>
<text x="1199" y="551.2">2</text>
<text x="1199" y="427.3">4</text>
<text x="1199" y="303.3">6</text>
<text x="1199" y="179.4">8</text>
<text x="1199" y="55.5">10</text>
</g>
<g font-size="36" text-anchor="middle">
<text x="1275.8" y="713.5">0</text>
<text x="1386.4" y="713.5">5</text>
<text x="1496.9" y="713.5">10</text>
<text x="1607.5" y="713.5">15</text>
<text x="1718.1" y="713.5">20</text>
<text x="1828.6" y="713.5">25</text>
<text x="1939.2" y="713.5">30</text>
</g>
<text x="1578.5" y="784" font-size="31.5" text-anchor="middle" letter-spacing="0.6">Time (d)</text>
<text transform="translate(1124.5,336) rotate(-90)" font-size="41.5" text-anchor="middle"><tspan font-style="italic">i</tspan> (μA/cm<tspan font-size="26" dy="-15">2</tspan><tspan dy="15">)</tspan></text>
<text x="1230" y="96.3" font-size="54">(B)</text>
<line x1="1277.2" y1="215.3" x2="1307.6" y2="441.1" stroke="#000" stroke-width="1.4"/>
<line x1="1311.7" y1="461.6" x2="1339.4" y2="564.6" stroke="#000" stroke-width="1.4"/>
<line x1="1348.7" y1="566.6" x2="1401.9" y2="501.1" stroke="#000" stroke-width="1.4"/>
<line x1="1418.5" y1="496.2" x2="1531.2" y2="532.2" stroke="#000" stroke-width="1.4"/>
<line x1="1551.5" y1="533.4" x2="1663.5" y2="511.1" stroke="#000" stroke-width="1.4"/>
<line x1="1684.0" y1="506.6" x2="1796.3" y2="479.3" stroke="#000" stroke-width="1.4"/>
<line x1="1816.5" y1="480.1" x2="1929.2" y2="517.0" stroke="#000" stroke-width="1.4"/>
<circle cx="1275.8" cy="204.9" r="7.6" fill="#000"/>
<circle cx="1309.0" cy="451.5" r="7.6" fill="#000"/>
<circle cx="1342.1" cy="574.8" r="7.6" fill="#000"/>
<circle cx="1408.5" cy="493.0" r="7.6" fill="#000"/>
<circle cx="1541.2" cy="535.4" r="7.6" fill="#000"/>
<circle cx="1673.8" cy="509.1" r="7.6" fill="#000"/>
<circle cx="1806.5" cy="476.9" r="7.6" fill="#000"/>
<circle cx="1939.2" cy="520.2" r="7.6" fill="#000"/>
</svg>
</body></html>
